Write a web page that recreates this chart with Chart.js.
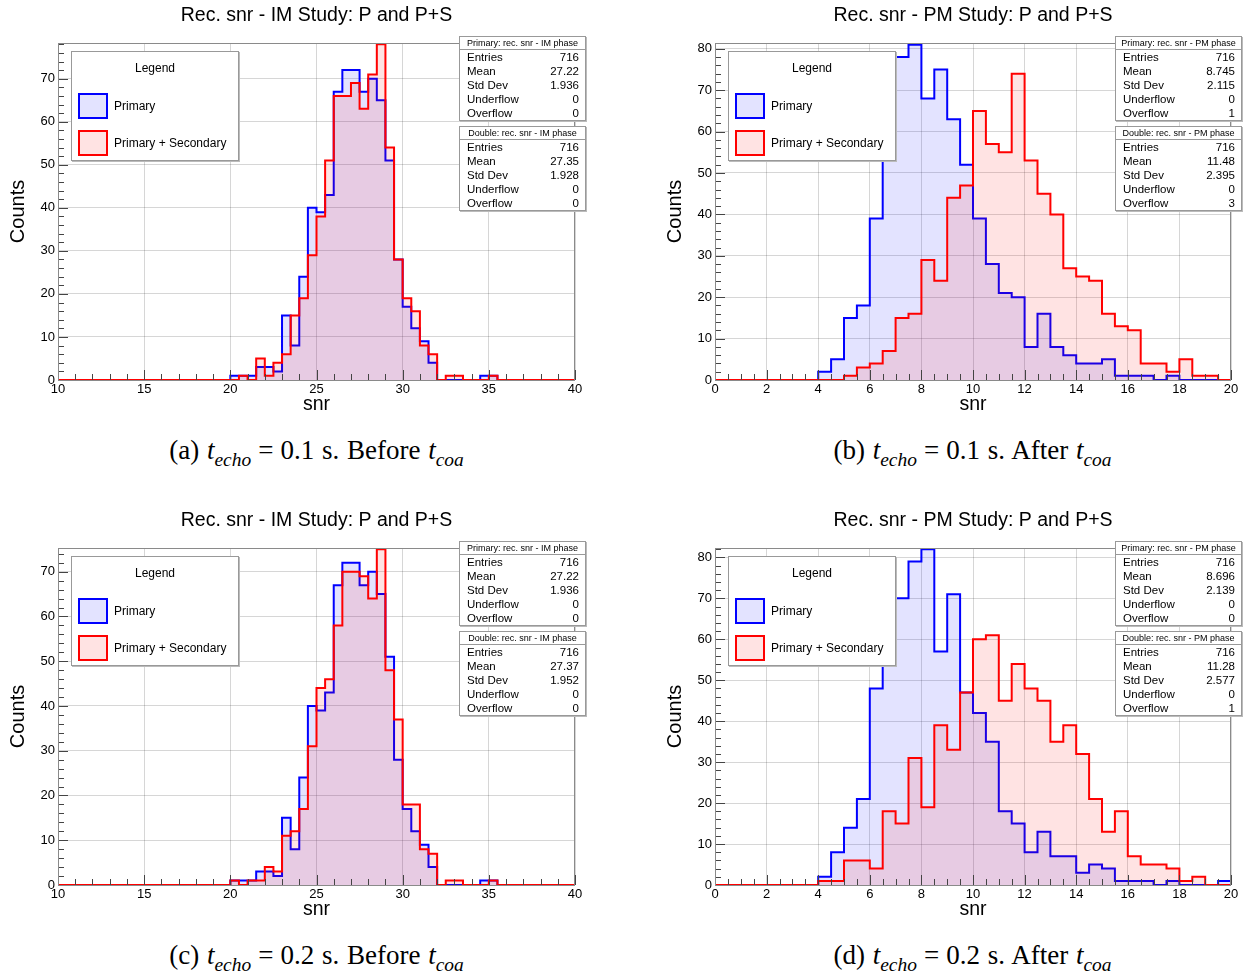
<!DOCTYPE html>
<html>
<head>
<meta charset="utf-8">
<script src="https://cdn.jsdelivr.net/npm/chart.js@4.4.1/dist/chart.umd.min.js"></script>
<style>
    body { margin: 0; background: #fff; width: 1250px; height: 971px; position: relative; overflow: hidden;
           font-family: "Liberation Sans", Arial, sans-serif; }
    .panel { position: absolute; width: 625px; height: 425px; }
    .panel canvas { position: absolute; left: 0; top: 0; }
    .legbox { position: absolute; width: 166px; height: 108px; background: #fff; border: 1px solid #999;
              box-shadow: 1px 1px 0 #bbb; }
    .legbox .ttl { position: absolute; left: 0; width: 100%; top: 9px; text-align: center; font-size: 12px; }
    .legbox .sw { position: absolute; left: 6px; width: 26px; height: 22px; border: 2px solid; }
    .legbox .lab { position: absolute; left: 42px; font-size: 12px; line-height: 14px; }
    .stat { position: absolute; width: 125px; height: 83px; background: #fff; border: 1px solid #999;
            box-shadow: 1px 1px 0 #bbb; font-size: 11.5px; }
    .stat .hd { position: absolute; left: 0; width: 100%; top: 1px; height: 11px; line-height: 11px; font-size: 9px;
                text-align: center; border-bottom: 1px solid #999; }
    .stat .row { position: absolute; left: 7px; right: 6px; height: 14px; line-height: 14px; }
    .stat .row span:last-child { float: right; }
    .cap { position: absolute; width: 625px; text-align: center; font-family: "Liberation Serif", "DejaVu Serif", serif;
           font-size: 27px; line-height: 30px; word-spacing: 1px; }
    .cap sub { font-size: 72%; vertical-align: -0.35em; line-height: 0; }
    .cap .eq { margin: 0 7px; }
</style>
</head>
<body>
<div class="panel" id="pa" style="left:0;top:0"><canvas id="ca" width="625" height="425"></canvas></div>
<div class="panel" id="pb" style="left:625px;top:0"><canvas id="cb" width="625" height="425"></canvas></div>
<div class="panel" id="pc" style="left:0;top:505px"><canvas id="cc" width="625" height="425"></canvas></div>
<div class="panel" id="pd" style="left:625px;top:505px"><canvas id="cd" width="625" height="425"></canvas></div>

<div class="cap" style="left:4px;top:435px">(a) <i>t</i><sub><i>echo</i></sub><span class="eq">=</span>0.1 s. Before <i>t</i><sub><i>coa</i></sub></div>
<div class="cap" style="left:660px;top:435px">(b) <i>t</i><sub><i>echo</i></sub><span class="eq">=</span>0.1 s. After <i>t</i><sub><i>coa</i></sub></div>
<div class="cap" style="left:4px;top:940px">(c) <i>t</i><sub><i>echo</i></sub><span class="eq">=</span>0.2 s. Before <i>t</i><sub><i>coa</i></sub></div>
<div class="cap" style="left:660px;top:940px">(d) <i>t</i><sub><i>echo</i></sub><span class="eq">=</span>0.2 s. After <i>t</i><sub><i>coa</i></sub></div>

<script>
    // bin layout: 0.5 wide bins, arrays start at the given low edge
    const binWidth = 0.5;
    const imBinStart = 20;
    const pmBinStart = 4;

    // t_echo = 0.1 s
    const imPrimary01 = [1, 1, 1, 3, 3, 2, 15, 8, 24, 40, 39, 43, 67, 72, 72, 67, 70, 65, 51, 28, 17, 12, 9, 4, 0, 0, 0, 0, 0, 1, 1, 0];
    const imDouble01 = [0, 1, 0, 5, 1, 4, 6, 15, 19, 29, 38, 51, 66, 66, 69, 63, 71, 78, 54, 28, 19, 16, 8, 6, 0, 1, 1, 0, 0, 0, 1, 0];
    const pmPrimary01 = [2, 5, 15, 18, 39, 56, 78, 81, 68, 75, 63, 52, 39, 28, 21, 20, 8, 16, 8, 6, 4, 4, 5, 1, 1, 1, 0, 1, 0, 0, 0, 0];
    const pmDouble01 = [0, 0, 1, 3, 4, 7, 15, 16, 29, 24, 44, 47, 65, 57, 55, 74, 53, 45, 40, 27, 25, 24, 16, 13, 12, 4, 4, 2, 5, 1, 1, 0];

    // t_echo = 0.2 s
    const imPrimary02 = [1, 1, 1, 3, 3, 2, 15, 8, 24, 40, 39, 43, 67, 72, 72, 67, 70, 65, 51, 28, 17, 12, 9, 4, 0, 0, 0, 0, 0, 1, 1, 0];
    const imDouble02 = [1, 0, 1, 1, 4, 3, 11, 12, 17, 31, 44, 46, 58, 70, 70, 69, 64, 75, 48, 37, 18, 18, 8, 7, 0, 1, 1, 0, 0, 0, 1, 0];
    const pmPrimary02 = [2, 8, 14, 21, 48, 55, 70, 79, 82, 57, 71, 47, 42, 35, 18, 15, 8, 13, 7, 7, 3, 5, 4, 1, 1, 1, 0, 1, 0, 0, 0, 1];
    const pmDouble02 = [1, 1, 6, 6, 4, 18, 15, 31, 19, 39, 33, 47, 60, 61, 45, 54, 48, 45, 35, 39, 32, 21, 13, 18, 7, 5, 5, 4, 1, 2, 0, 0];

    const statNames = ["Entries", "Mean", "Std Dev", "Underflow", "Overflow"];
    const statsPrimaryA = ["716", "27.22", "1.936", "0", "0"];
    const statsDoubleA = ["716", "27.35", "1.928", "0", "0"];
    const statsPrimaryB = ["716", "8.745", "2.115", "0", "1"];
    const statsDoubleB = ["716", "11.48", "2.395", "0", "3"];
    const statsPrimaryC = ["716", "27.22", "1.936", "0", "0"];
    const statsDoubleC = ["716", "27.37", "1.952", "0", "0"];
    const statsPrimaryD = ["716", "8.696", "2.139", "0", "0"];
    const statsDoubleD = ["716", "11.28", "2.577", "0", "1"];

    const imTitle = "Rec. snr - IM Study: P and P+S";
    const pmTitle = "Rec. snr - PM Study: P and P+S";

    const BLUE = "#0000ff";
    const RED = "#ff0000";
    const BLUE_FILL = "rgba(0, 0, 255, 0.11)";
    const RED_FILL = "rgba(255, 0, 0, 0.11)";

    function histPoints(start, counts, min, max) {
        const pts = [{ x: min, y: 0 }];
        counts.forEach((c, i) => pts.push({ x: start + i * binWidth, y: c }));
        pts.push({ x: start + counts.length * binWidth, y: 0 });
        pts.push({ x: max, y: 0 });
        return pts;
    }

    // ROOT style inner ticks and frame
    const rootFrame = {
        id: "rootFrame",
        afterDatasetsDraw(chart, args, opts) {
            const { ctx, chartArea: a, scales: { x, y } } = chart;
            ctx.save();
            ctx.strokeStyle = "#444";
            ctx.lineWidth = 1;
            ctx.beginPath();
            for (let v = x.min; v <= x.max + 1e-6; v += opts.xMinor) {
                const px = Math.round(x.getPixelForValue(v)) + 0.5;
                const major = Math.abs(v / opts.xMajor - Math.round(v / opts.xMajor)) < 1e-6;
                ctx.moveTo(px, a.bottom);
                ctx.lineTo(px, a.bottom - (major ? 10 : 6));
            }
            for (let v = 0; v <= y.max + 1e-6; v += opts.yMinor) {
                const py = Math.round(y.getPixelForValue(v)) + 0.5;
                const major = Math.abs(v / 10 - Math.round(v / 10)) < 1e-6;
                ctx.moveTo(a.left, py);
                ctx.lineTo(a.left + (major ? 10 : 6), py);
            }
            ctx.stroke();
            ctx.strokeStyle = "#8a8a8a";
            ctx.strokeRect(Math.round(a.left) + 0.5, Math.round(a.top) + 0.5,
                Math.round(a.width) - 1, Math.round(a.height));
            ctx.restore();
        },
    };

    function addLegend(panel, left) {
        const box = document.createElement("div");
        box.className = "legbox";
        box.style.left = left + "px";
        box.style.top = "51px";
        box.innerHTML =
            '<div class="ttl">Legend</div>' +
            '<div class="sw" style="top:41px;border-color:' + BLUE + ';background:' + BLUE_FILL + '"></div>' +
            '<div class="lab" style="top:47px">Primary</div>' +
            '<div class="sw" style="top:78px;border-color:' + RED + ';background:' + RED_FILL + '"></div>' +
            '<div class="lab" style="top:84px">Primary + Secondary</div>';
        document.getElementById(panel).appendChild(box);
    }

    function addStats(panel, left, top, header, values) {
        const box = document.createElement("div");
        box.className = "stat";
        box.style.left = left + "px";
        box.style.top = top + "px";
        let html = '<div class="hd">' + header + "</div>";
        statNames.forEach((name, i) => {
            html += '<div class="row" style="top:' + (13 + i * 14) + 'px"><span>' + name + "</span><span>" + values[i] + "</span></div>";
        });
        box.innerHTML = html;
        document.getElementById(panel).appendChild(box);
    }

    function makePanel(canvasId, p) {
        const tickFont = { family: "Liberation Sans", size: 13 };
        new Chart(document.getElementById(canvasId), {
            type: "line",
            data: {
                datasets: [
                    {
                        label: "Primary + Secondary",
                        data: histPoints(p.start, p.double, p.xMin, p.xMax),
                        stepped: true,
                        borderColor: RED,
                        backgroundColor: RED_FILL,
                        fill: "origin",
                        borderWidth: 2,
                        pointRadius: 0,
                        order: 0,
                    },
                    {
                        label: "Primary",
                        data: histPoints(p.start, p.primary, p.xMin, p.xMax),
                        stepped: true,
                        borderColor: BLUE,
                        backgroundColor: BLUE_FILL,
                        fill: "origin",
                        borderWidth: 2,
                        pointRadius: 0,
                        order: 1,
                    },
                ],
            },
            options: {
                responsive: false,
                animation: false,
                events: [],
                layout: { padding: { left: p.padLeft, right: p.padRight, top: 0, bottom: 0 } },
                plugins: {
                    legend: { display: false },
                    tooltip: { enabled: false },
                    title: {
                        display: true,
                        text: p.title,
                        fullSize: false,
                        color: "#000",
                        font: { family: "Liberation Sans", size: 19.5, weight: "normal" },
                        padding: { top: 4, bottom: 15.6 },
                    },
                    rootFrame: { xMajor: p.xStep, xMinor: p.xMinor, yMinor: 2 },
                },
                scales: {
                    x: {
                        type: "linear",
                        min: p.xMin,
                        max: p.xMax,
                        ticks: { stepSize: p.xStep, color: "#000", font: tickFont, padding: 2, maxRotation: 0, autoSkip: false, includeBounds: false },
                        grid: { color: "rgba(0,0,0,0.16)", drawTicks: false },
                        border: { display: false },
                        title: { display: true, text: "snr", color: "#000", font: { family: "Liberation Sans", size: 19.5 }, padding: { top: 0, bottom: 9 } },
                        afterFit(scale) { scale.height = 45; },
                    },
                    y: {
                        min: 0,
                        max: p.yMax,
                        ticks: { stepSize: 10, color: "#000", font: tickFont, padding: 3, includeBounds: false },
                        grid: { color: "rgba(0,0,0,0.16)", drawTicks: false },
                        border: { display: false },
                        title: { display: true, text: "Counts", color: "#000", font: { family: "Liberation Sans", size: 20 }, padding: { top: 6, bottom: 0 } },
                        afterFit(scale) { scale.width = 58; },
                    },
                },
            },
            plugins: [rootFrame],
        });
    }

    const imAxis = { start: imBinStart, xMin: 10, xMax: 40, xStep: 5, xMinor: 1, padLeft: 0, padRight: 50, title: imTitle };
    const pmAxis = { start: pmBinStart, xMin: 0, xMax: 20, xStep: 2, xMinor: 0.5, padLeft: 32, padRight: 19, title: pmTitle };

    makePanel("ca", { ...imAxis, primary: imPrimary01, double: imDouble01, yMax: 78.3 });
    makePanel("cb", { ...pmAxis, primary: pmPrimary01, double: pmDouble01, yMax: 81.4 });
    makePanel("cc", { ...imAxis, primary: imPrimary02, double: imDouble02, yMax: 75.3 });
    makePanel("cd", { ...pmAxis, primary: pmPrimary02, double: pmDouble02, yMax: 82.3 });

    addLegend("pa", 71);
    addLegend("pb", 103);
    addLegend("pc", 71);
    addLegend("pd", 103);

    addStats("pa", 459, 36, "Primary: rec. snr - IM phase", statsPrimaryA);
    addStats("pa", 459, 126, "Double: rec. snr - IM phase", statsDoubleA);
    addStats("pb", 490, 36, "Primary: rec. snr - PM phase", statsPrimaryB);
    addStats("pb", 490, 126, "Double: rec. snr - PM phase", statsDoubleB);
    addStats("pc", 459, 36, "Primary: rec. snr - IM phase", statsPrimaryC);
    addStats("pc", 459, 126, "Double: rec. snr - IM phase", statsDoubleC);
    addStats("pd", 490, 36, "Primary: rec. snr - PM phase", statsPrimaryD);
    addStats("pd", 490, 126, "Double: rec. snr - PM phase", statsDoubleD);
</script>
</body>
</html>
